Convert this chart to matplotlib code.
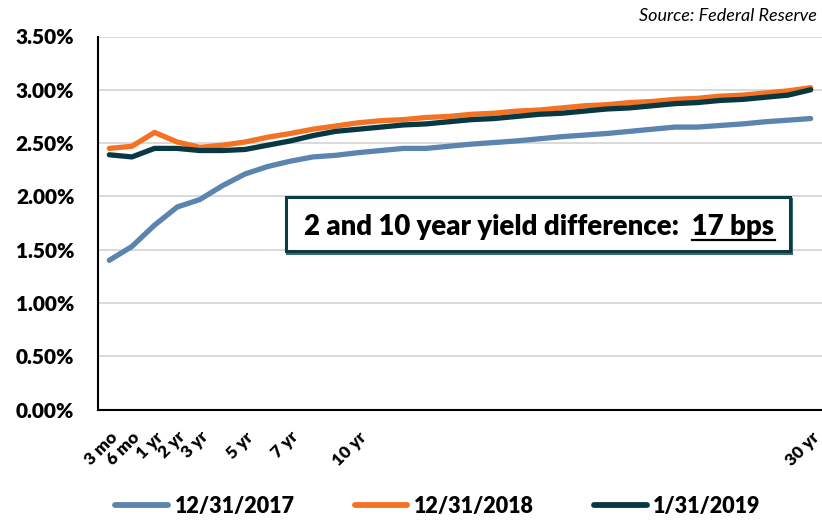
import matplotlib
matplotlib.use("Agg")
import matplotlib.pyplot as plt
from matplotlib.patches import Rectangle
from matplotlib.lines import Line2D
from matplotlib.ticker import FuncFormatter

plt.rcParams['font.family'] = ['Lato', 'DejaVu Sans']
WEIGHT = 'heavy'

# ---------------- data ----------------
maturities = ['3 mo', '6 mo', '1 yr', '2 yr', '3 yr', '4 yr', '5 yr', '6 yr', '7 yr', '8 yr',
              '9 yr', '10 yr', '11 yr', '12 yr', '13 yr', '14 yr', '15 yr', '16 yr', '17 yr',
              '18 yr', '19 yr', '20 yr', '21 yr', '22 yr', '23 yr', '24 yr', '25 yr', '26 yr',
              '27 yr', '28 yr', '29 yr', '30 yr']
shown_labels = ['3 mo', '6 mo', '1 yr', '2 yr', '3 yr', '5 yr', '7 yr', '10 yr', '30 yr']

y_2017 = [1.40, 1.53, 1.73, 1.90, 1.97, 2.10, 2.21, 2.28, 2.33, 2.37, 2.385, 2.41, 2.43, 2.45,
          2.45, 2.47, 2.49, 2.505, 2.52, 2.54, 2.56, 2.575, 2.59, 2.61, 2.63, 2.65, 2.65, 2.665,
          2.68, 2.70, 2.715, 2.73]
y_2018 = [2.45, 2.47, 2.60, 2.51, 2.46, 2.48, 2.51, 2.555, 2.59, 2.63, 2.66, 2.69, 2.71, 2.72,
          2.74, 2.75, 2.77, 2.78, 2.80, 2.81, 2.83, 2.85, 2.86, 2.88, 2.89, 2.91, 2.92, 2.94,
          2.95, 2.97, 2.99, 3.02]
y_2019 = [2.39, 2.37, 2.45, 2.45, 2.43, 2.43, 2.44, 2.48, 2.52, 2.57, 2.61, 2.63, 2.65, 2.67,
          2.68, 2.70, 2.72, 2.73, 2.75, 2.77, 2.78, 2.80, 2.82, 2.83, 2.85, 2.87, 2.88, 2.90,
          2.91, 2.93, 2.95, 3.00]
series_names = ['12/31/2017', '12/31/2018', '1/31/2019']
y_ticks = [0.0, 0.5, 1.0, 1.5, 2.0, 2.5, 3.0, 3.5]
annotation_main = '2 and 10 year yield difference:  '
annotation_value = '17 bps'
source_text = 'Source: Federal Reserve'

colors = ['#5B84AE', '#F37224', '#083943']

# ---------------- figure ----------------
W, H = 822, 521
fig = plt.figure(figsize=(W / 100, H / 100), dpi=100)
fig.patch.set_facecolor('white')

def fx(px):
    return px / W

def fy(py):
    return 1 - py / H

ax = fig.add_axes([fx(98), fy(409.5), fx(822) - fx(98), fy(36.5) - fy(409.5)])

x = list(range(len(maturities)))
for vals, c, name in zip([y_2017, y_2018, y_2019], colors, series_names):
    ax.plot(x, vals, color=c, lw=3.8, label=name, solid_joinstyle='round',
            solid_capstyle='round', zorder=3)

ax.set_xlim(-0.5, len(maturities) - 0.5)
ax.set_ylim(0, 3.5)
ax.set_yticks(y_ticks)
ax.yaxis.set_major_formatter(FuncFormatter(lambda v, p: f'{v:.2f}%'))
ax.grid(axis='y', color='#D9D9D9', lw=1.4, zorder=0)
ax.set_axisbelow(True)

tick_pos = [maturities.index(l) for l in shown_labels]
ax.set_xticks(tick_pos)
ax.set_xticklabels(shown_labels, rotation=45, ha='right', va='top',
                   rotation_mode='anchor', fontsize=12.5, fontweight=WEIGHT)
for lbl in ax.get_yticklabels():
    lbl.set_fontweight(WEIGHT)
    lbl.set_fontsize(15)
ax.tick_params(axis='y', length=0, pad=17)
ax.tick_params(axis='x', length=0, pad=14)

for s in ['top', 'right']:
    ax.spines[s].set_visible(False)
for s in ['left', 'bottom']:
    ax.spines[s].set_color('#000000')
    ax.spines[s].set_linewidth(1.5)

# legend
handles = [Line2D([0], [0], color=c, lw=4.2, solid_capstyle='round') for c in colors]
fig.legend(handles, series_names, loc='center', bbox_to_anchor=(fx(438), fy(506)),
           ncol=3, frameon=False, handlelength=2.45, handletextpad=0.3,
           columnspacing=2.8, prop={'weight': WEIGHT, 'size': 15.5})

# source
fig.text(fx(817), fy(16), source_text, ha='right', va='center', style='italic',
         fontsize=13, color='#000000')

# annotation box
bx0, bx1, by0, by1 = 286, 790, 197, 251
fig.patches.append(Rectangle((fx(bx0 + 1), fy(by1 + 2)), fx(bx1) - fx(bx0), fy(by0) - fy(by1),
                             transform=fig.transFigure, facecolor='#3C6870',
                             edgecolor='#3C6870', lw=2.2, zorder=4))
fig.patches.append(Rectangle((fx(bx0), fy(by1)), fx(bx1) - fx(bx0), fy(by0) - fy(by1),
                             transform=fig.transFigure, facecolor='white',
                             edgecolor='#0B3B44', lw=2.2, zorder=5))
full = annotation_main + annotation_value
FS_BOX = 19.8
t = fig.text(fx(539.5), fy(235), full, ha='center', va='baseline', fontsize=FS_BOX,
             fontweight=WEIGHT, zorder=6)
renderer = fig.canvas.get_renderer()
bb_full = t.get_window_extent(renderer)
tv = fig.text(0, 0, annotation_value, fontsize=FS_BOX, fontweight=WEIGHT)
bb_v = tv.get_window_extent(renderer)
tv.remove()
ux1 = bb_full.x1
ux0 = ux1 - bb_v.width
uy = fy(240) * H
fig.add_artist(Line2D([ux0 / W, ux1 / W], [uy / H, uy / H], transform=fig.transFigure,
                      color='black', lw=1.6, zorder=6))

fig.savefig('out.png', dpi=100)
